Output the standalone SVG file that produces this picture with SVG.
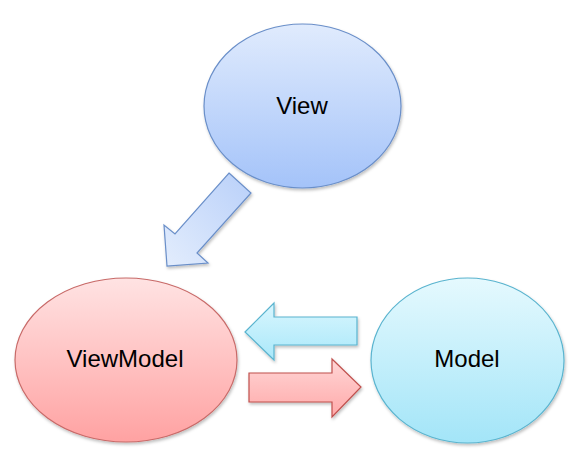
<svg xmlns="http://www.w3.org/2000/svg" width="571" height="466" viewBox="0 0 571 466">
<style>
  .lbl { font-family: "Liberation Sans", Arial, sans-serif; font-size: 24px; fill: #000; text-anchor: middle; }
  .shape { stroke-width: 1.2; filter: url(#sh); }
</style>
<defs>
  <filter id="sh" x="-10%" y="-10%" width="120%" height="125%">
    <feDropShadow dx="1" dy="2" stdDeviation="1.5" flood-color="#000" flood-opacity="0.25"/>
  </filter>
  <linearGradient id="gBlue" x1="0" y1="0" x2="0" y2="1">
    <stop offset="0" stop-color="#e0ebfd"/>
    <stop offset="1" stop-color="#a4c3f9"/>
  </linearGradient>
  <linearGradient id="gRed" x1="0" y1="0" x2="0" y2="1">
    <stop offset="0" stop-color="#ffe3e3"/>
    <stop offset="1" stop-color="#ffa2a2"/>
  </linearGradient>
  <linearGradient id="gCyan" x1="0" y1="0" x2="0" y2="1">
    <stop offset="0" stop-color="#e5f9fe"/>
    <stop offset="1" stop-color="#a3e5f8"/>
  </linearGradient>
  <linearGradient id="gBlueArr" x1="1" y1="0" x2="0" y2="1">
    <stop offset="0" stop-color="#b9d0f9"/>
    <stop offset="1" stop-color="#e3edfd"/>
  </linearGradient>
  <linearGradient id="gCyanArr" x1="0" y1="0" x2="0" y2="1">
    <stop offset="0" stop-color="#d9f6fe"/>
    <stop offset="1" stop-color="#a9e8fa"/>
  </linearGradient>
  <linearGradient id="gRedArr" x1="0" y1="0" x2="0" y2="1">
    <stop offset="0" stop-color="#ffd6d6"/>
    <stop offset="1" stop-color="#ffa9a9"/>
  </linearGradient>
</defs>
<rect width="571" height="466" fill="#fff"/>
<g id="connectors">
  <polygon class="shape" fill="url(#gBlueArr)" stroke="#6a8fc9" points="229,173 251,193 197,253 208,263 167,266 164,225 175,234"/>
  <polygon class="shape" fill="url(#gCyanArr)" stroke="#5ab4cf" points="245,332 274,303 274,317 357,317 357,345 274,345 274,360"/>
  <polygon class="shape" fill="url(#gRedArr)" stroke="#c0504d" points="249,373 332,373 332,359 361,387 332,417 332,402 249,402"/>
</g>
<g id="view">
  <ellipse class="shape" cx="302.5" cy="106" rx="98.5" ry="82" fill="url(#gBlue)" stroke="#6a8fc9"/>
  <text class="lbl" x="302" y="114">View</text>
</g>
<g id="viewmodel">
  <ellipse class="shape" cx="126" cy="360" rx="111" ry="82" fill="url(#gRed)" stroke="#c86a68"/>
  <text class="lbl" x="125" y="367">ViewModel</text>
</g>
<g id="model">
  <ellipse class="shape" cx="467.5" cy="360.5" rx="96.5" ry="82.5" fill="url(#gCyan)" stroke="#5ab4cf"/>
  <text class="lbl" x="467" y="367">Model</text>
</g>
</svg>
